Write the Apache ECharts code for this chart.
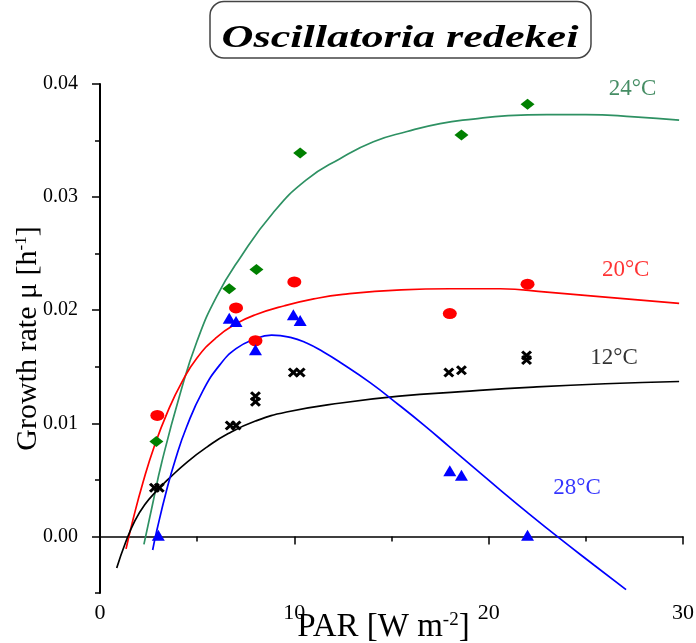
<!DOCTYPE html>
<html>
<head>
<meta charset="utf-8">
<script src="https://cdn.jsdelivr.net/npm/echarts@6/dist/echarts.min.js"></script>
<style>html,body{margin:0;padding:0;background:#fff}#chart{width:696px;height:643px}</style>
</head>
<body>
<div id="chart"></div>
<script>
var chart = echarts.init(document.getElementById('chart'));

// measured growth rates, PAR on x
var x12 = [2.8, 3.05, 6.7, 7.0, 8.0, 8.0, 9.95, 10.3, 17.95, 18.6, 21.95, 21.95];
var y12 = [0.0043, 0.0043, 0.0098, 0.0098, 0.0124, 0.0119, 0.0145, 0.0145, 0.0145, 0.0147, 0.0160, 0.0156];
var x20 = [2.95, 7.0, 8.0, 10.0, 18.0, 22.0];
var y20 = [0.0107, 0.0202, 0.0173, 0.0225, 0.0197, 0.0223];
var x24 = [2.9, 6.65, 8.05, 10.3, 18.6, 22.0];
var y24 = [0.0084, 0.0219, 0.0236, 0.0339, 0.0355, 0.0382];
var x28 = [3.0, 6.65, 7.0, 8.0, 9.95, 10.3, 18.0, 18.6, 22.0];
var y28 = [0.0001, 0.0193, 0.0190, 0.0165, 0.0196, 0.0191, 0.0058, 0.0054, 0.0001];

// fitted curves
var fx12 = [0.86, 1.3, 1.8, 2.3, 2.9, 3.6, 4.5, 5.5, 6.6, 8.0, 9.6, 12.4, 15.4, 18.6, 22.3, 26, 29.8];
var fy12 = [-0.0028, -0.0006, 0.0014, 0.0028, 0.0040, 0.0052, 0.0066, 0.0079, 0.0091, 0.0102, 0.0110, 0.0118, 0.0124, 0.0128, 0.0132, 0.0135, 0.0137];
var fx20 = [1.34, 1.7, 2.2, 2.8, 3.5, 4.2, 5.0, 6.0, 7.0, 8.0, 9.5, 11, 12.5, 15.5, 18, 20.6, 23, 25.7, 29.8];
var fy20 = [-0.0011, 0.0015, 0.0047, 0.0080, 0.0111, 0.0136, 0.0158, 0.0176, 0.0188, 0.0196, 0.0204, 0.0210, 0.0214, 0.0218, 0.0219, 0.0219, 0.0216, 0.0212, 0.0206];
var fx24 = [2.26, 2.7, 3.17, 4.12, 5.0, 6.0, 7.2, 8.9, 10.6, 12.35, 14.07, 15.8, 17.5, 19.2, 21, 23, 25, 27.5, 29.8];
var fy24 = [-0.0007, 0.0028, 0.0065, 0.0126, 0.0173, 0.0212, 0.0246, 0.0286, 0.0315, 0.0334, 0.0349, 0.0358, 0.0365, 0.0369, 0.0372, 0.0373, 0.0373, 0.0371, 0.0368];
var fx28 = [2.71, 2.92, 3.43, 3.86, 4.46, 5.3, 6.18, 7.0, 7.89, 8.83, 9.8, 10.63, 11.5, 12.35, 13.9, 15.4, 16.7, 18.0, 19.3, 20.6, 22.0, 23.67, 25.4, 27.07];
var fy28 = [-0.0012, 0.0005, 0.0041, 0.0067, 0.0097, 0.0129, 0.0152, 0.0166, 0.0174, 0.0178, 0.0176, 0.0171, 0.0163, 0.0154, 0.0136, 0.0116, 0.0098, 0.0079, 0.0060, 0.0041, 0.0021, -0.0002, -0.0025, -0.0047];

// curve labels
var tempNames = ['24°C', '20°C', '12°C', '28°C'];
var tempLabelX = [27.4, 27.05, 26.45, 24.55];
var tempLabelY = [0.0396, 0.0236, 0.0158, 0.0043];
var tempColors = ['#17703d', '#ff0000', '#000000', '#0000ff'];

var yMajor = [0, 0.01, 0.02, 0.03, 0.04];
var xMajor = [0, 10, 20, 30];

function pairs(xs, ys) {
  return xs.map(function (x, i) { return [x, ys[i]]; });
}

var serif = 'Liberation Serif';
var crossPath = 'path://M0,2L2,0L5,3L8,0L10,2L7,5L10,8L8,10L5,7L2,10L0,8L3,5Z';

function curve(name, xs, ys, color) {
  return {
    name: name, type: 'line', data: pairs(xs, ys), smooth: true,
    symbol: 'none', showSymbol: false, z: 2,
    lineStyle: { color: color, width: 1.7 }
  };
}
function points(name, xs, ys, symbol, size, color) {
  return {
    name: name, type: 'scatter', data: pairs(xs, ys), symbol: symbol,
    symbolSize: size, z: 3, itemStyle: { color: color, opacity: 1 }
  };
}

var option = {
  animation: false,
  backgroundColor: '#fff',
  grid: { left: 100, right: 13, top: 84, bottom: 50, outerBoundsMode: 'none' },
  graphic: [
    { type: 'rect', shape: { x: 210, y: 1.5, width: 381, height: 56.5, r: 14 },
      style: { fill: '#fff', stroke: '#444', lineWidth: 1.5 } },
    { type: 'text', x: 400, y: 39, scaleX: 1.38,
      style: { text: 'Oscillatoria redekei', font: 'italic bold 32px "Liberation Serif"',
               fill: '#000', align: 'center', verticalAlign: 'middle' } }
  ],
  xAxis: [{
    type: 'value', min: 0, max: 30, interval: 5, position: 'bottom',
    axisLine: { show: true, lineStyle: { color: '#000', width: 1.5 } },
    axisTick: { show: true, length: 5, lineStyle: { color: '#000', width: 1.5 } },
    axisLabel: {
      fontSize: 22, fontFamily: serif, color: '#000', margin: 9,
      formatter: function (v) { return xMajor.indexOf(v) >= 0 ? String(v) : ''; }
    },
    splitLine: { show: false },
    name: '{n|PAR [W m}{s|-2}{n|]}', nameLocation: 'middle', nameGap: 18, nameMoveOverlap: false,
    nameTextStyle: {
      padding: [0, 16, 0, 0],
      rich: {
        n: { fontSize: 33, fontFamily: serif, color: '#000' },
        s: { fontSize: 19, fontFamily: serif, color: '#000', verticalAlign: 'top' }
      }
    }
  }, {
    type: 'value', min: 0, max: 30, position: 'bottom',
    axisLine: { show: false },
    axisTick: { show: true, length: 8, customValues: xMajor, lineStyle: { color: '#000', width: 1.5 } },
    axisLabel: { show: false },
    splitLine: { show: false }
  }],
  yAxis: [{
    type: 'value', min: -0.005, max: 0.04, interval: 0.005, position: 'left', offset: 8,
    axisLine: { show: true, lineStyle: { color: '#000', width: 2 } },
    axisTick: { show: true, length: 5, lineStyle: { color: '#000', width: 1.5 } },
    axisLabel: {
      fontSize: 20, fontFamily: serif, color: '#000', margin: 14,
      formatter: function (v) {
        for (var i = 0; i < yMajor.length; i++) {
          if (Math.abs(v - yMajor[i]) < 1e-9) return v.toFixed(2);
        }
        return '';
      }
    },
    splitLine: { show: false },
    name: '{n|Growth rate μ [h}{s|-1}{n|]}', nameLocation: 'middle', nameGap: 49, nameMoveOverlap: false,
    nameTextStyle: {
      rich: {
        n: { fontSize: 30, fontFamily: serif, color: '#000' },
        s: { fontSize: 17, fontFamily: serif, color: '#000', verticalAlign: 'top' }
      }
    }
  }, {
    type: 'value', min: -0.005, max: 0.04, position: 'left', offset: 8,
    axisLine: { show: false },
    axisTick: { show: true, length: 8, customValues: yMajor, lineStyle: { color: '#000', width: 1.5 } },
    axisLabel: { show: false },
    splitLine: { show: false }
  }],
  series: [
    curve('24 fit', fx24, fy24, '#2e9163'),
    curve('20 fit', fx20, fy20, '#ff0000'),
    curve('12 fit', fx12, fy12, '#000000'),
    curve('28 fit', fx28, fy28, '#0000ff'),
    points('24°C', x24, y24, 'diamond', [14, 11], '#008000'),
    points('20°C', x20, y20, 'circle', [14, 11], '#ff0000'),
    points('12°C', x12, y12, crossPath, [11, 10], '#000000'),
    points('28°C', x28, y28, 'triangle', [13, 11], '#0000ff'),
    {
      name: 'labels', type: 'scatter', symbolSize: 1, z: 4,
      itemStyle: { color: 'rgba(0,0,0,0)' },
      data: tempNames.map(function (t, i) {
        return {
          value: [tempLabelX[i], tempLabelY[i]],
          label: { show: true, position: 'inside', formatter: t,
                   fontSize: 23, fontFamily: serif, color: tempColors[i] }
        };
      })
    }
  ]
};
chart.setOption(option);
</script>
</body>
</html>
